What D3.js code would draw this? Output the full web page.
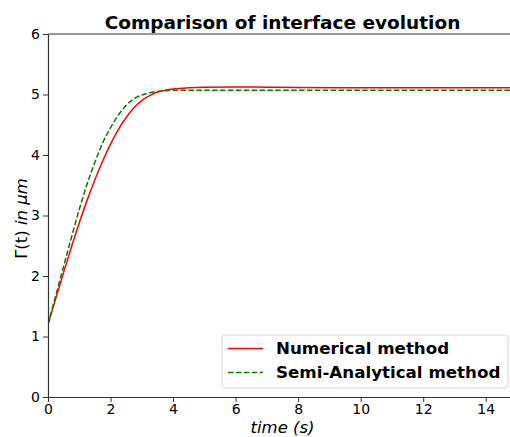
<!DOCTYPE html>
<html lang="en">
<head>
	<meta charset="utf-8">
	<title>Comparison of interface evolution</title>
	<script src="https://cdn.jsdelivr.net/npm/d3@7"></script>
	<style>
		body { margin: 0; background: #fff; }
		text { font-family: "DejaVu Sans", sans-serif; fill: #000; }
	</style>
</head>
<body>
	<div id="chart"></div>
	<script>

		// time samples (s)
		const times = [0, 0.25, 0.5, 0.75, 1, 1.25, 1.5, 1.75, 2, 2.25, 2.5, 2.75, 3, 3.25, 3.5, 3.75, 4, 4.5, 5, 6, 7, 8, 10, 12, 15];
		// interface position in um
		const numerical = [1.2, 1.63, 2.06, 2.48, 2.88, 3.25, 3.59, 3.9, 4.18, 4.42, 4.62, 4.78, 4.9, 4.98, 5.04, 5.07, 5.09, 5.11, 5.12, 5.125, 5.12, 5.115, 5.11, 5.11, 5.11];
		const semiAnalytical = [1.2, 1.68, 2.16, 2.64, 3.1, 3.52, 3.88, 4.2, 4.45, 4.66, 4.82, 4.93, 4.99, 5.03, 5.05, 5.06, 5.07, 5.07, 5.07, 5.07, 5.07, 5.07, 5.07, 5.07, 5.07];
		const xTicks = [0, 2, 4, 6, 8, 10, 12, 14];
		const yTicks = [0, 1, 2, 3, 4, 5, 6];
		const legendLabels = ["Numerical method", "Semi-Analytical method"];

		const W = 510, H = 437;
		const margin = {top: 34, right: -7, bottom: 40, left: 48};
		const width = W - margin.left - margin.right,
			height = H - margin.top - margin.bottom;

		const svg = d3.select("#chart")
			.append("svg")
			.attr("width", W)
			.attr("height", H);

		const g = svg.append("g")
			.attr("transform", "translate(" + margin.left + "," + margin.top + ")");

		const x = d3.scaleLinear().domain([0, 15]).range([0, width]);
		const y = d3.scaleLinear().domain([0, 6]).range([height, 0]);

		g.append("defs").append("clipPath")
			.attr("id", "clip")
			.append("rect")
			.attr("width", width)
			.attr("height", height);

		const series = [
			{name: legendLabels[0], values: numerical, color: "#ff0000", dash: null},
			{name: legendLabels[1], values: semiAnalytical, color: "#008000", dash: "5.5,2.4"}
		];

		const line = d3.line()
			.x((d, i) => x(times[i]))
			.y(d => y(d))
			.curve(d3.curveMonotoneX);

		const lines = g.append("g").attr("clip-path", "url(#clip)");
		series.forEach(s => {
			lines.append("path")
				.datum(s.values)
				.attr("fill", "none")
				.attr("stroke", s.color)
				.attr("stroke-width", 1.5)
				.attr("stroke-dasharray", s.dash)
				.attr("d", line);
		});

		// axes
		const xAxis = g.append("g")
			.attr("transform", "translate(0," + height + ")")
			.call(d3.axisBottom(x).tickValues(xTicks).tickFormat(d3.format("d"))
				.tickSize(5).tickPadding(2).tickSizeOuter(0));
		const yAxis = g.append("g")
			.call(d3.axisLeft(y).tickValues(yTicks).tickFormat(d3.format("d"))
				.tickSize(5).tickPadding(3).tickSizeOuter(0));

		[xAxis, yAxis].forEach(a => {
			a.select(".domain").attr("stroke", "#333").attr("stroke-width", 1.2);
			a.selectAll(".tick line").attr("stroke", "#333").attr("stroke-width", 1);
			a.selectAll(".tick text")
				.style("font-family", "DejaVu Sans, sans-serif")
				.style("font-size", "14px")
				.attr("fill", "#222");
		});

		// top spine
		g.append("line")
			.attr("x1", 0).attr("x2", width)
			.attr("y1", 0).attr("y2", 0)
			.attr("stroke", "#333")
			.attr("stroke-width", 1.2);

		// title
		svg.append("text")
			.attr("x", margin.left + x(7.5))
			.attr("y", 29)
			.attr("text-anchor", "middle")
			.style("font-size", "18.5px")
			.style("font-weight", "bold")
			.text("Comparison of interface evolution");

		// axis labels
		svg.append("text")
			.attr("x", margin.left + x(7.5))
			.attr("y", 433)
			.attr("text-anchor", "middle")
			.style("font-size", "16.5px")
			.style("font-style", "italic")
			.text("time (s)");

		const yl = svg.append("text")
			.attr("transform", "translate(27," + (margin.top + height / 2 + 3) + ") rotate(-90)")
			.attr("text-anchor", "middle")
			.style("font-size", "16.5px");
		yl.append("tspan").text("Γ(t) ");
		yl.append("tspan").style("font-style", "italic").text("in μm");

		// legend
		const legend = svg.append("g").attr("transform", "translate(222,335)");
		legend.append("rect")
			.attr("width", 286)
			.attr("height", 53)
			.attr("rx", 3)
			.attr("fill", "#fff")
			.attr("fill-opacity", 0.8)
			.attr("stroke", "#d6d6d6")
			.attr("stroke-width", 1);

		series.forEach((s, i) => {
			const ly = 13.5 + i * 24;
			legend.append("line")
				.attr("x1", 6).attr("x2", 41)
				.attr("y1", ly).attr("y2", ly)
				.attr("stroke", s.color)
				.attr("stroke-width", 1.5)
				.attr("stroke-dasharray", s.dash);
			legend.append("text")
				.attr("x", 54)
				.attr("y", ly)
				.attr("dy", "0.35em")
				.style("font-size", "16.7px")
				.style("font-weight", "bold")
				.text(s.name);
		});

	</script>
</body>
</html>
